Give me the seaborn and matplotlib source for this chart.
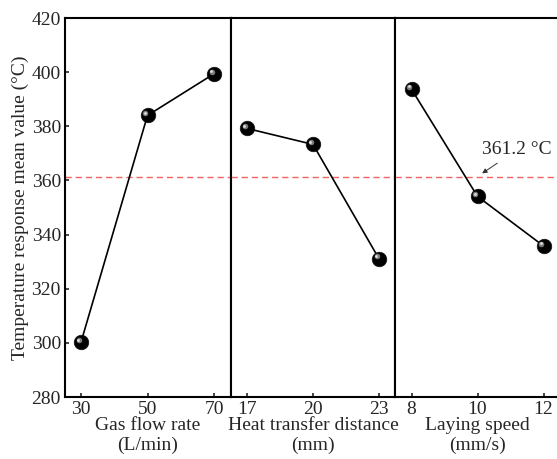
import matplotlib
matplotlib.use("Agg")
import matplotlib.pyplot as plt
import matplotlib.transforms as mtransforms
import seaborn as sns
import pandas as pd

# ---- data ----
gas_flow = [30, 50, 70]
gas_temp = [300.2, 384.0, 399.4]
heat_dist = [17, 20, 23]
heat_temp = [379.2, 373.3, 331.1]
lay_speed = [8, 10, 12]
lay_temp = [393.7, 354.1, 335.8]
mean_value = 361.2
xlabels = ["Gas flow rate\n(L/min)", "Heat transfer distance\n(mm)", "Laying speed\n(mm/s)"]
ylabel = "Temperature response mean value (\u00b0C)"
yticks = [280, 300, 320, 340, 360, 380, 400, 420]

sns.set_style("ticks")
plt.rcParams['font.family'] = ['Liberation Serif', 'DejaVu Serif']

W, H = 557, 459
fig = plt.figure(figsize=(W / 100, H / 100), dpi=100)

top, bottom = 18, 397
edges = [65, 231, 395, 560]
xlims = [(25.2, 75.1), (16.27, 23.73), (7.5, 12.5)]
series = [(gas_flow, gas_temp), (heat_dist, heat_temp), (lay_speed, lay_temp)]
FS = 14

axes = []
for i in range(3):
    x0 = edges[i] / W
    w = (edges[i + 1] - edges[i]) / W
    ax = fig.add_axes([x0, (H - bottom) / H, w, (bottom - top) / H])
    axes.append(ax)
    xs, ys = series[i]
    df = pd.DataFrame({"x": xs, "y": ys})
    ax.axhline(mean_value, color="#f06464", lw=1.0, ls=(0, (4.5, 2.8)), zorder=1)
    sns.lineplot(data=df, x="x", y="y", ax=ax, color="black", lw=1.2, zorder=2)
    sns.scatterplot(data=df, x="x", y="y", ax=ax, color="black", s=110,
                    edgecolor="#111111", linewidth=0.5, zorder=3)
    # highlight for sphere look
    off = mtransforms.offset_copy(ax.transData, fig=fig, x=-1.6, y=1.6, units='points')
    ax.scatter(xs, ys, s=16, color="#7a7a7a", transform=off, zorder=4, linewidths=0)
    off2 = mtransforms.offset_copy(ax.transData, fig=fig, x=-2.0, y=2.0, units='points')
    ax.scatter(xs, ys, s=4, color="#e0e0e0", transform=off2, zorder=5, linewidths=0)

    ax.set_xlim(*xlims[i])
    ax.set_ylim(280, 420)
    ax.set_xticks(xs)
    ax.set_xticklabels([str(v) for v in xs])
    ax.set_xlabel(xlabels[i], fontsize=FS, labelpad=-1, linespacing=1.2)
    for s in ax.spines.values():
        s.set_linewidth(1.5)
        s.set_color("black")
    ax.tick_params(axis='x', labelsize=FS, length=3, width=1.2, pad=3, direction='in')
    if i == 0:
        ax.set_yticks(yticks)
        ax.set_ylabel(ylabel, fontsize=FS, labelpad=2)
        ax.tick_params(axis='y', labelsize=FS, length=3, width=1.2, pad=3, direction='in')
    else:
        ax.set_yticks([])
        ax.set_ylabel("")

ax3 = axes[2]
ax3.annotate("361.2 \u00b0C", xy=(10.14, 362.6), xytext=(11.2, 371.3),
             fontsize=FS, ha="center", va="center",
             arrowprops=dict(arrowstyle="-|>", color="#333333", lw=0.7,
                             mutation_scale=7, shrinkA=2, shrinkB=0))

fig.savefig("out.png", dpi=100)
